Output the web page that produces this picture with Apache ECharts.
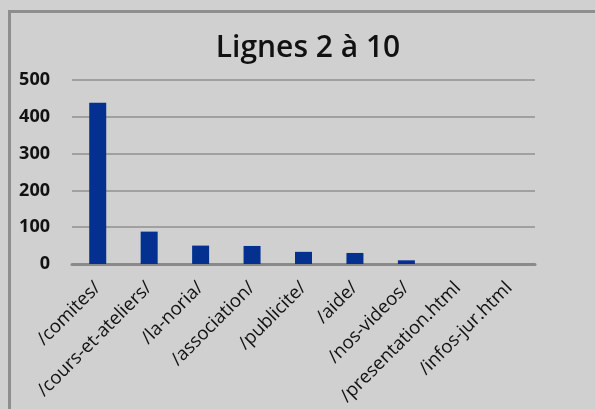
<!DOCTYPE html>
<html>
<head>
<meta charset="utf-8">
<script src="https://cdn.jsdelivr.net/npm/echarts@6/dist/echarts.min.js"></script>
<style>
  html, body { margin: 0; padding: 0; background: #d0d0d0; }
  #chart { width: 595px; height: 409px; }
</style>
</head>
<body>
<div id="chart"></div>
<script>
const pages = [
  '/comites/',
  '/cours-et-ateliers/',
  '/la-noria/',
  '/association/',
  '/publicite/',
  '/aide/',
  '/nos-videos/',
  '/presentation.html',
  '/infos-jur.html',
];
const visits = [438, 88, 50, 49, 33, 30, 10, 0, 0];
const yTicks = [0, 100, 200, 300, 400, 500];

const chart = echarts.init(document.getElementById('chart'), null, { renderer: 'canvas' });

chart.setOption({
  animation: false,
  backgroundColor: '#d0d0d0',
  title: {
    text: 'Lignes 2 à 10',
    left: 303,
    top: 28,
    textAlign: 'center',
    textStyle: {
      fontFamily: 'Open Sans',
      fontWeight: 600,
      fontSize: 30,
      color: '#111',
    },
  },
  graphic: [
    {
      type: 'rect',
      silent: true,
      shape: { x: 9.5, y: 11.5, width: 700, height: 500 },
      style: { fill: 'none', stroke: '#8e8e8e', lineWidth: 3 },
    },
  ],
  grid: {
    left: 72,
    right: 60,
    top: 80,
    bottom: 145,
    containLabel: false,
  },
  xAxis: {
    type: 'category',
    data: pages,
    axisTick: { show: false },
    axisLine: { lineStyle: { color: '#8a8a8a', width: 3 } },
    axisLabel: {
      rotate: 45,
      interval: 0,
      margin: 21,
      color: '#111',
      fontFamily: 'Open Sans',
      fontSize: 18.5,
    },
  },
  yAxis: {
    type: 'value',
    min: yTicks[0],
    max: yTicks[yTicks.length - 1],
    interval: 100,
    axisLine: { show: false },
    axisTick: { show: false },
    axisLabel: {
      margin: 22,
      color: '#111',
      fontFamily: 'Open Sans',
      fontWeight: 700,
      fontSize: 18,
    },
    splitLine: { lineStyle: { color: '#a0a0a0', width: 2 } },
  },
  series: [
    {
      type: 'bar',
      data: visits,
      barWidth: 17,
      itemStyle: { color: '#04318f' },
    },
  ],
});
</script>
</body>
</html>
